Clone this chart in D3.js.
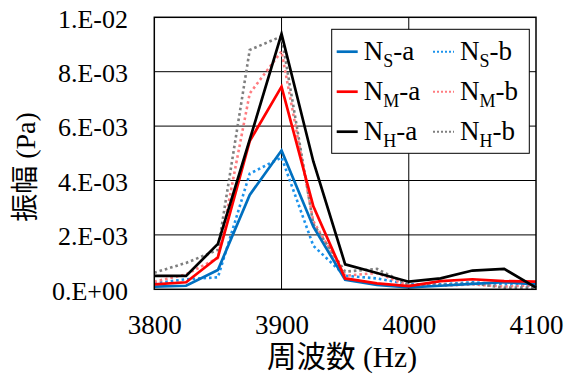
<!DOCTYPE html>
<html>
<head>
<meta charset="utf-8">
<script src="https://cdn.jsdelivr.net/npm/d3@7"></script>
<style>
  html, body { margin: 0; padding: 0; background: #fff; }
  svg { display: block; }
</style>
</head>
<body>
<svg id="chart" width="566" height="378"></svg>
<script>
// Frequency points (Hz)
const freqs = [3800, 3825, 3850, 3875, 3900, 3925, 3950, 3975, 4000, 4025, 4050, 4075, 4100];

// Amplitude (Pa) for each condition
const nsA = [0.00010, 0.00013, 0.00071, 0.00347, 0.00510, 0.00230, 0.00035, 0.00016, 0.00007, 0.00013, 0.00020, 0.00026, 0.00018];
const nmA = [0.00018, 0.00026, 0.00118, 0.00545, 0.00745, 0.00305, 0.00040, 0.00022, 0.00012, 0.00030, 0.00037, 0.00030, 0.00028];
const nhA = [0.00049, 0.00049, 0.00167, 0.00550, 0.00939, 0.00470, 0.00092, 0.00060, 0.00028, 0.00040, 0.00069, 0.00075, 0.00006];
const nsB = [0.00022, 0.00037, 0.00044, 0.00425, 0.00485, 0.00160, 0.00050, 0.00040, 0.00018, 0.00018, 0.00026, 0.00018, 0.00010];
const nmB = [0.00028, 0.00055, 0.00115, 0.00720, 0.00875, 0.00250, 0.00050, 0.00060, 0.00013, 0.00013, 0.00018, 0.00010, 0.00015];
const nhB = [0.00061, 0.00097, 0.00145, 0.00880, 0.00930, 0.00240, 0.00065, 0.00075, 0.00016, 0.00016, 0.00022, 0.00006, 0.00006];

// Axis ticks and labels
const xTicks = [3800, 3900, 4000, 4100];
const yTicks = [0, 0.002, 0.004, 0.006, 0.008, 0.010];
const yTickLabels = ["0.E+00", "2.E-03", "4.E-03", "6.E-03", "8.E-03", "1.E-02"];

// Series definitions: name parts for the legend, values, style
const seriesNames = [["N", "S", "-a"], ["N", "M", "-a"], ["N", "H", "-a"], ["N", "S", "-b"], ["N", "M", "-b"], ["N", "H", "-b"]];
const seriesValues = [nsA, nmA, nhA, nsB, nmB, nhB];
const seriesColors = ["#0070C0", "#FF0000", "#000000", "#1C93EC", "#FF7C80", "#7F7F7F"];
const seriesDotted = [false, false, false, true, true, true];

const SERIF = "Liberation Serif, Times New Roman, serif";
const CJK_SERIF = "Liberation Serif, Noto Sans CJK JP, serif";

const svg = d3.select("#chart");
const margin = { left: 154.3, right: 536, top: 17.3, bottom: 289.3 };

const x = d3.scaleLinear().domain([3800, 4100]).range([margin.left, margin.right]);
const y = d3.scaleLinear().domain([0, 0.01]).range([margin.bottom, margin.top]);

// Gridlines
const grid = svg.append("g");
grid.selectAll("line.h").data(yTicks.slice(1, -1)).enter().append("line")
  .attr("x1", margin.left).attr("x2", margin.right)
  .attr("y1", d => y(d)).attr("y2", d => y(d))
  .attr("stroke", "#000").attr("stroke-width", 1);
grid.selectAll("line.v").data(xTicks.slice(1, -1)).enter().append("line")
  .attr("y1", margin.top).attr("y2", margin.bottom)
  .attr("x1", d => x(d)).attr("x2", d => x(d))
  .attr("stroke", "#000").attr("stroke-width", 1);

// Series lines
const line = d3.line().x((d, i) => x(freqs[i])).y(d => y(d));
const order = [3, 4, 5, 0, 1, 2];
order.forEach(k => {
  svg.append("path")
    .datum(seriesValues[k])
    .attr("d", line)
    .attr("fill", "none")
    .attr("stroke", seriesColors[k])
    .attr("stroke-width", seriesDotted[k] ? 2.6 : 2.7)
    .attr("stroke-dasharray", seriesDotted[k] ? "2.6,2.9" : null)
    .attr("stroke-linejoin", "miter");
});

// Plot frame
svg.append("rect")
  .attr("x", margin.left).attr("y", margin.top)
  .attr("width", margin.right - margin.left).attr("height", margin.bottom - margin.top)
  .attr("fill", "none").attr("stroke", "#000").attr("stroke-width", 1.5);

// Axes (labels only; frame drawn above)
const yAxis = d3.axisLeft(y).tickValues(yTicks)
  .tickFormat((d, i) => yTickLabels[i]).tickSize(0).tickPadding(0);
const gy = svg.append("g").attr("transform", "translate(128,0)").call(yAxis)
  .attr("font-family", SERIF).attr("font-size", 26);
gy.select(".domain").remove();
gy.selectAll("text").attr("font-family", SERIF).attr("font-size", 26).attr("dy", "0.38em");

const xAxis = d3.axisBottom(x).tickValues(xTicks).tickFormat(d3.format("d")).tickSize(0).tickPadding(0);
const gx = svg.append("g").attr("transform", "translate(0,315)").call(xAxis)
  .attr("font-family", SERIF).attr("font-size", 27);
gx.select(".domain").remove();
gx.selectAll("text").attr("font-family", SERIF).attr("font-size", 27).attr("dy", "0.71em");

// Axis titles
svg.append("text")
  .attr("x", 342).attr("y", 367)
  .attr("text-anchor", "middle").attr("font-size", 29.5).attr("font-family", CJK_SERIF)
  .text("周波数 (Hz)");
svg.append("text")
  .attr("transform", "translate(35,167) rotate(-90)")
  .attr("text-anchor", "middle").attr("font-size", 28).attr("font-family", CJK_SERIF)
  .text("振幅 (Pa)");

// Legend
const legend = svg.append("g");
legend.append("rect")
  .attr("x", 331.7).attr("y", 29.3).attr("width", 197.6).attr("height", 124)
  .attr("fill", "#fff").attr("stroke", "#000").attr("stroke-width", 1);
const colX = [336.7, 433];
const rowY = [51.7, 91.7, 131.7];
seriesNames.forEach((nm, k) => {
  const col = k < 3 ? 0 : 1;
  const row = k % 3;
  const cy = rowY[row];
  const lx = colX[col];
  legend.append("line")
    .attr("x1", lx).attr("x2", lx + 21).attr("y1", cy).attr("y2", cy)
    .attr("stroke", seriesColors[k])
    .attr("stroke-width", seriesDotted[k] ? 2 : 2.7)
    .attr("stroke-dasharray", seriesDotted[k] ? "2,2" : null);
  const t = legend.append("text")
    .attr("x", lx + 27).attr("y", cy + 8.5).attr("font-size", 27).attr("font-family", SERIF);
  t.append("tspan").text(nm[0]);
  t.append("tspan").attr("font-size", 18).attr("dy", 6.5).text(nm[1]);
  t.append("tspan").attr("dy", -6.5).text(nm[2]);
});
</script>
</body>
</html>
